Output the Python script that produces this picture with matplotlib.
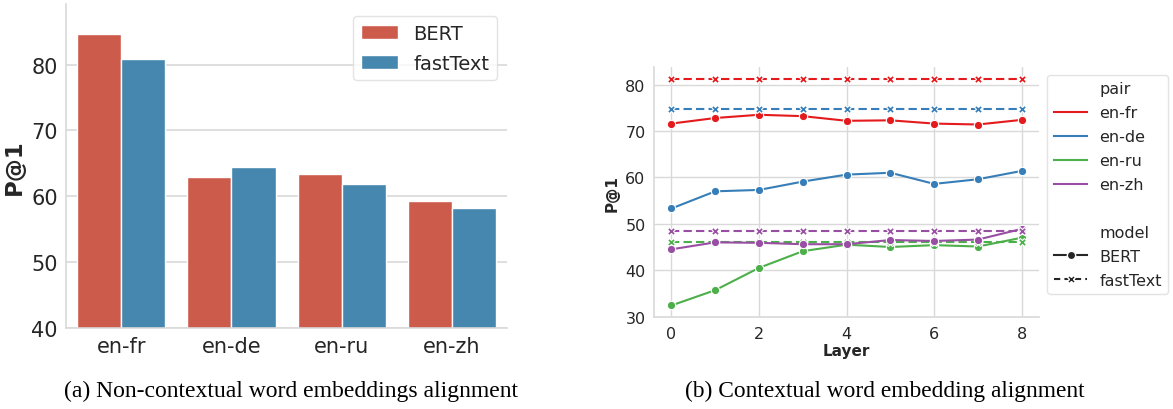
import matplotlib.pyplot as plt
from matplotlib.lines import Line2D
from matplotlib.patches import Rectangle
import numpy as np

# ---- data ----
pairs = ["en-fr", "en-de", "en-ru", "en-zh"]
bert_static = [84.7, 62.9, 63.4, 59.3]
fasttext_static = [80.8, 64.5, 61.9, 58.2]

layers = [0, 1, 2, 3, 4, 5, 6, 7, 8]
bert_layers = {
    "en-fr": [71.6, 72.8, 73.5, 73.2, 72.2, 72.3, 71.6, 71.4, 72.4],
    "en-de": [53.3, 57.0, 57.3, 59.1, 60.6, 61.0, 58.6, 59.6, 61.4],
    "en-ru": [32.4, 35.7, 40.5, 44.1, 45.5, 45.0, 45.4, 45.1, 47.0],
    "en-zh": [44.5, 46.0, 45.9, 45.6, 45.6, 46.5, 46.3, 46.6, 48.9],
}
fasttext_layers = {"en-fr": 81.3, "en-de": 74.8, "en-ru": 46.1, "en-zh": 48.4}

pair_colors = {"en-fr": "#e41a1c", "en-de": "#377eb8", "en-ru": "#4daf4a", "en-zh": "#984ea3"}
grid_c = "#d9d9d9"
text_c = "#262626"

plt.rcParams["font.family"] = "DejaVu Sans"

fig = plt.figure(figsize=(11.73, 4.10), dpi=100)

def style(ax, size):
    for s in ["top", "right"]:
        ax.spines[s].set_visible(False)
    for s in ["left", "bottom"]:
        ax.spines[s].set_color(grid_c)
        ax.spines[s].set_linewidth(1.2)
    ax.tick_params(length=0, labelsize=size, labelcolor=text_c, pad=6)
    ax.set_axisbelow(True)

# ---- (a) bar chart ----
ax1 = fig.add_axes([0.0563, 0.1976, 0.376, 0.790])
x = np.arange(len(pairs))
w = 0.4
ax1.bar(x - w / 2, bert_static, w, color="#cd5b4b", edgecolor="white", linewidth=1, label="BERT")
ax1.bar(x + w / 2, fasttext_static, w, color="#4587af", edgecolor="white", linewidth=1, label="fastText")
ax1.set_ylim(40, 89.2)
ax1.set_xlim(-0.5, 3.5)
ax1.set_yticks([40, 50, 60, 70, 80])
ax1.set_xticks(x)
ax1.set_xticklabels(pairs)
ax1.yaxis.grid(True, color=grid_c, linewidth=1.2)
ax1.xaxis.grid(False)
style(ax1, 15)
ax1.set_ylabel("P@1", fontsize=16.5, fontweight="bold", color=text_c, labelpad=4)
leg1 = ax1.legend(loc="upper right", fontsize=14, frameon=True, borderpad=0.4, borderaxespad=0,
                  handlelength=1.9, handletextpad=0.77, labelspacing=0.55,
                  bbox_to_anchor=(0.977, 0.963))
leg1.get_frame().set_edgecolor("#dddddd")
for t in leg1.get_texts():
    t.set_color(text_c)

# ---- (b) line chart ----
ax2 = fig.add_axes([0.5575, 0.2237, 0.3285, 0.6105])
for p in pairs:
    c = pair_colors[p]
    ax2.plot(layers, bert_layers[p], color=c, linewidth=1.5, marker="o", markersize=6,
             markeredgecolor="white", markeredgewidth=0.8)
    ax2.plot(layers, [fasttext_layers[p]] * len(layers), color=c, linewidth=1.5, linestyle="--",
             dashes=(4, 2), marker="X", markersize=6, markeredgecolor="white", markeredgewidth=0.8)
ax2.set_xlim(-0.4, 8.4)
ax2.set_ylim(29.85, 83.8)
ax2.set_xticks([0, 2, 4, 6, 8])
ax2.set_yticks([30, 40, 50, 60, 70, 80])
ax2.grid(True, color=grid_c, linewidth=1.0)
style(ax2, 11.5)
ax2.set_ylabel("P@1", fontsize=11, fontweight="bold", color=text_c, labelpad=4)
ax2.set_xlabel("Layer", fontsize=11, fontweight="bold", color=text_c, labelpad=2)

def blank():
    return Rectangle((0, 0), 1, 1, facecolor="none", edgecolor="none")

handles = [blank()] + [Line2D([], [], color=pair_colors[p], linewidth=1.5) for p in pairs] + [blank(), blank()] + [
    Line2D([], [], color="#262626", linewidth=1.5, marker="o", markersize=6, markeredgecolor="white"),
    Line2D([], [], color="#262626", linewidth=1.5, linestyle="--", dashes=(3, 2), marker="X", markersize=6,
           markeredgecolor="white"),
]
labels = ["pair"] + pairs + ["", "model", "BERT", "fastText"]
leg2 = ax2.legend(handles, labels, loc="upper left", bbox_to_anchor=(1.021, 0.968), borderaxespad=0,
                  fontsize=11.5, frameon=True, handlelength=2.1, handletextpad=0.75,
                  borderpad=0.4, labelspacing=0.56)
leg2.get_frame().set_edgecolor("#dddddd")
for t in leg2.get_texts():
    t.set_color(text_c)

# ---- captions ----
fig.text(0.248, 0.045, "(a) Non-contextual word embeddings alignment", ha="center", va="center",
         fontsize=17, family="Liberation Serif", color="black")
fig.text(0.754, 0.045, "(b) Contextual word embedding alignment", ha="center", va="center",
         fontsize=16.8, family="Liberation Serif", color="black")

fig.savefig("out.png", dpi=100)
